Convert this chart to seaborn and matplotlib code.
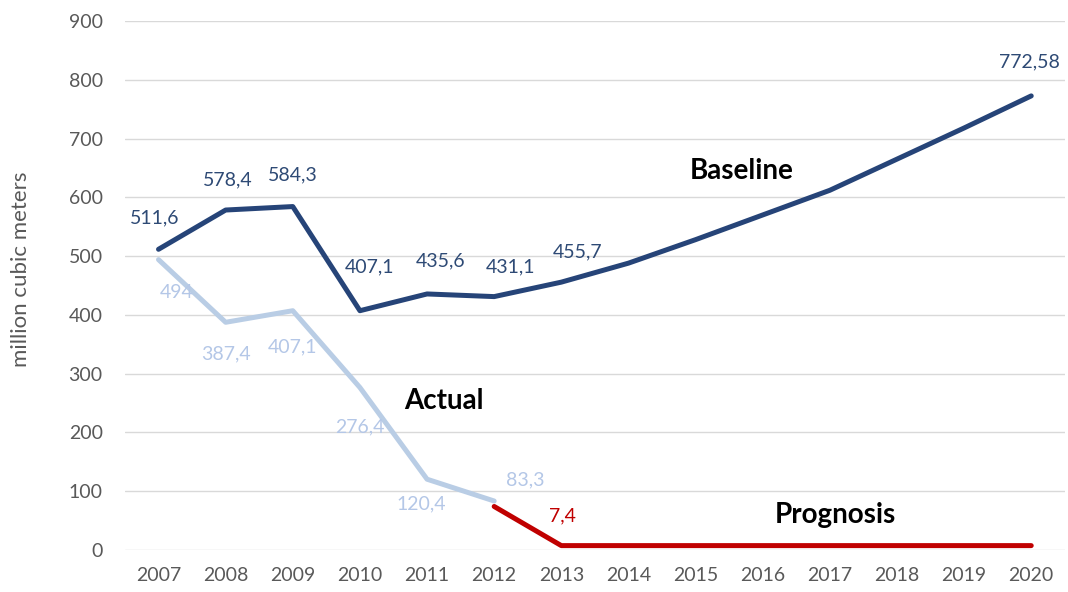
import matplotlib
matplotlib.use("Agg")
import matplotlib.pyplot as plt
import seaborn as sns
import pandas as pd

years = list(range(2007, 2021))
baseline = [511.6, 578.4, 584.3, 407.1, 435.6, 431.1, 455.7, 488, 528, 570, 612, 665, 718, 772.58]
actual_years = [2007, 2008, 2009, 2010, 2011, 2012]
actual = [494, 387.4, 407.1, 276.4, 120.4, 83.3]
prog_years = list(range(2012, 2021))
prognosis = [74, 7.4, 7.4, 7.4, 7.4, 7.4, 7.4, 7.4, 7.4]

baseline_labels = {2007: "511,6", 2008: "578,4", 2009: "584,3", 2010: "407,1",
                   2011: "435,6", 2012: "431,1", 2013: "455,7", 2020: "772,58"}
actual_labels = ["494", "387,4", "407,1", "276,4", "120,4", "83,3"]
prog_labels = {2013: "7,4"}

C_BASE = "#264478"
C_BASE_TXT = "#2E4A75"
C_ACT = "#B9CDE5"
C_ACT_TXT = "#B4C7E7"
C_PROG = "#C00000"

sns.set_theme(style="white")
plt.rcParams["font.family"] = ["Lato", "DejaVu Sans"]

fig = plt.figure(figsize=(10.68, 5.92), dpi=100)
ax = fig.add_axes([0.117, 0.071, 0.88, 0.8935])

df_b = pd.DataFrame({"year": years, "value": baseline})
df_a = pd.DataFrame({"year": actual_years, "value": actual})
df_p = pd.DataFrame({"year": prog_years, "value": prognosis})

sns.lineplot(data=df_b, x="year", y="value", color=C_BASE, lw=3.6, ax=ax, zorder=3)
sns.lineplot(data=df_a, x="year", y="value", color=C_ACT, lw=3.6, ax=ax, zorder=3)
sns.lineplot(data=df_p, x="year", y="value", color=C_PROG, lw=3.6, ax=ax, zorder=3)

ax.set_xlim(2006.5, 2020.5)
ax.set_ylim(0, 900)
ax.set_yticks(range(0, 901, 100))
ax.set_xticks(years)
ax.set_xticklabels([str(y) for y in years])
ax.yaxis.grid(True, color="#D9D9D9", lw=1)
ax.xaxis.grid(False)
for s in ax.spines.values():
    s.set_visible(False)
ax.tick_params(axis="both", length=0, labelsize=14, colors="#595959")
ax.tick_params(axis="y", pad=16)
ax.tick_params(axis="x", pad=12)
ax.set_xlabel("")
ax.set_ylabel("million cubic meters", fontsize=16, color="#595959")
ax.yaxis.set_label_coords(-0.10, 0.53)

px = 72 / 100.0  # pixels -> points
b_off = {2007: (-4, 31), 2008: (2, 30), 2009: (0, 32), 2010: (10, 44),
         2011: (14, 33), 2012: (16, 30), 2013: (16, 30), 2020: (-2, 34)}
for y, txt in baseline_labels.items():
    v = baseline[years.index(y)]
    dx, dy = b_off[y]
    ax.annotate(txt, (y, v), xytext=(dx * px, dy * px), textcoords="offset points",
                ha="center", va="center", fontsize=14, color=C_BASE_TXT)

a_off = [(18, -33), (0, -32), (0, -36), (0, -39), (-6, -25), (31, 21)]
for y, v, txt, (dx, dy) in zip(actual_years, actual, actual_labels, a_off):
    ax.annotate(txt, (y, v), xytext=(dx * px, dy * px), textcoords="offset points",
                ha="center", va="center", fontsize=14, color=C_ACT_TXT)

for y, txt in prog_labels.items():
    v = prognosis[prog_years.index(y)]
    ax.annotate(txt, (y, v), xytext=(1 * px, 30 * px), textcoords="offset points",
                ha="center", va="center", fontsize=14, color=C_PROG)

ax.text(2015.68, 645, "Baseline", fontsize=20, fontweight="bold", color="black", ha="center", va="center")
ax.text(2011.25, 253, "Actual", fontsize=20, fontweight="bold", color="black", ha="center", va="center")
ax.text(2017.08, 60, "Prognosis", fontsize=20, fontweight="bold", color="black", ha="center", va="center")

fig.savefig("out.png", dpi=100)
